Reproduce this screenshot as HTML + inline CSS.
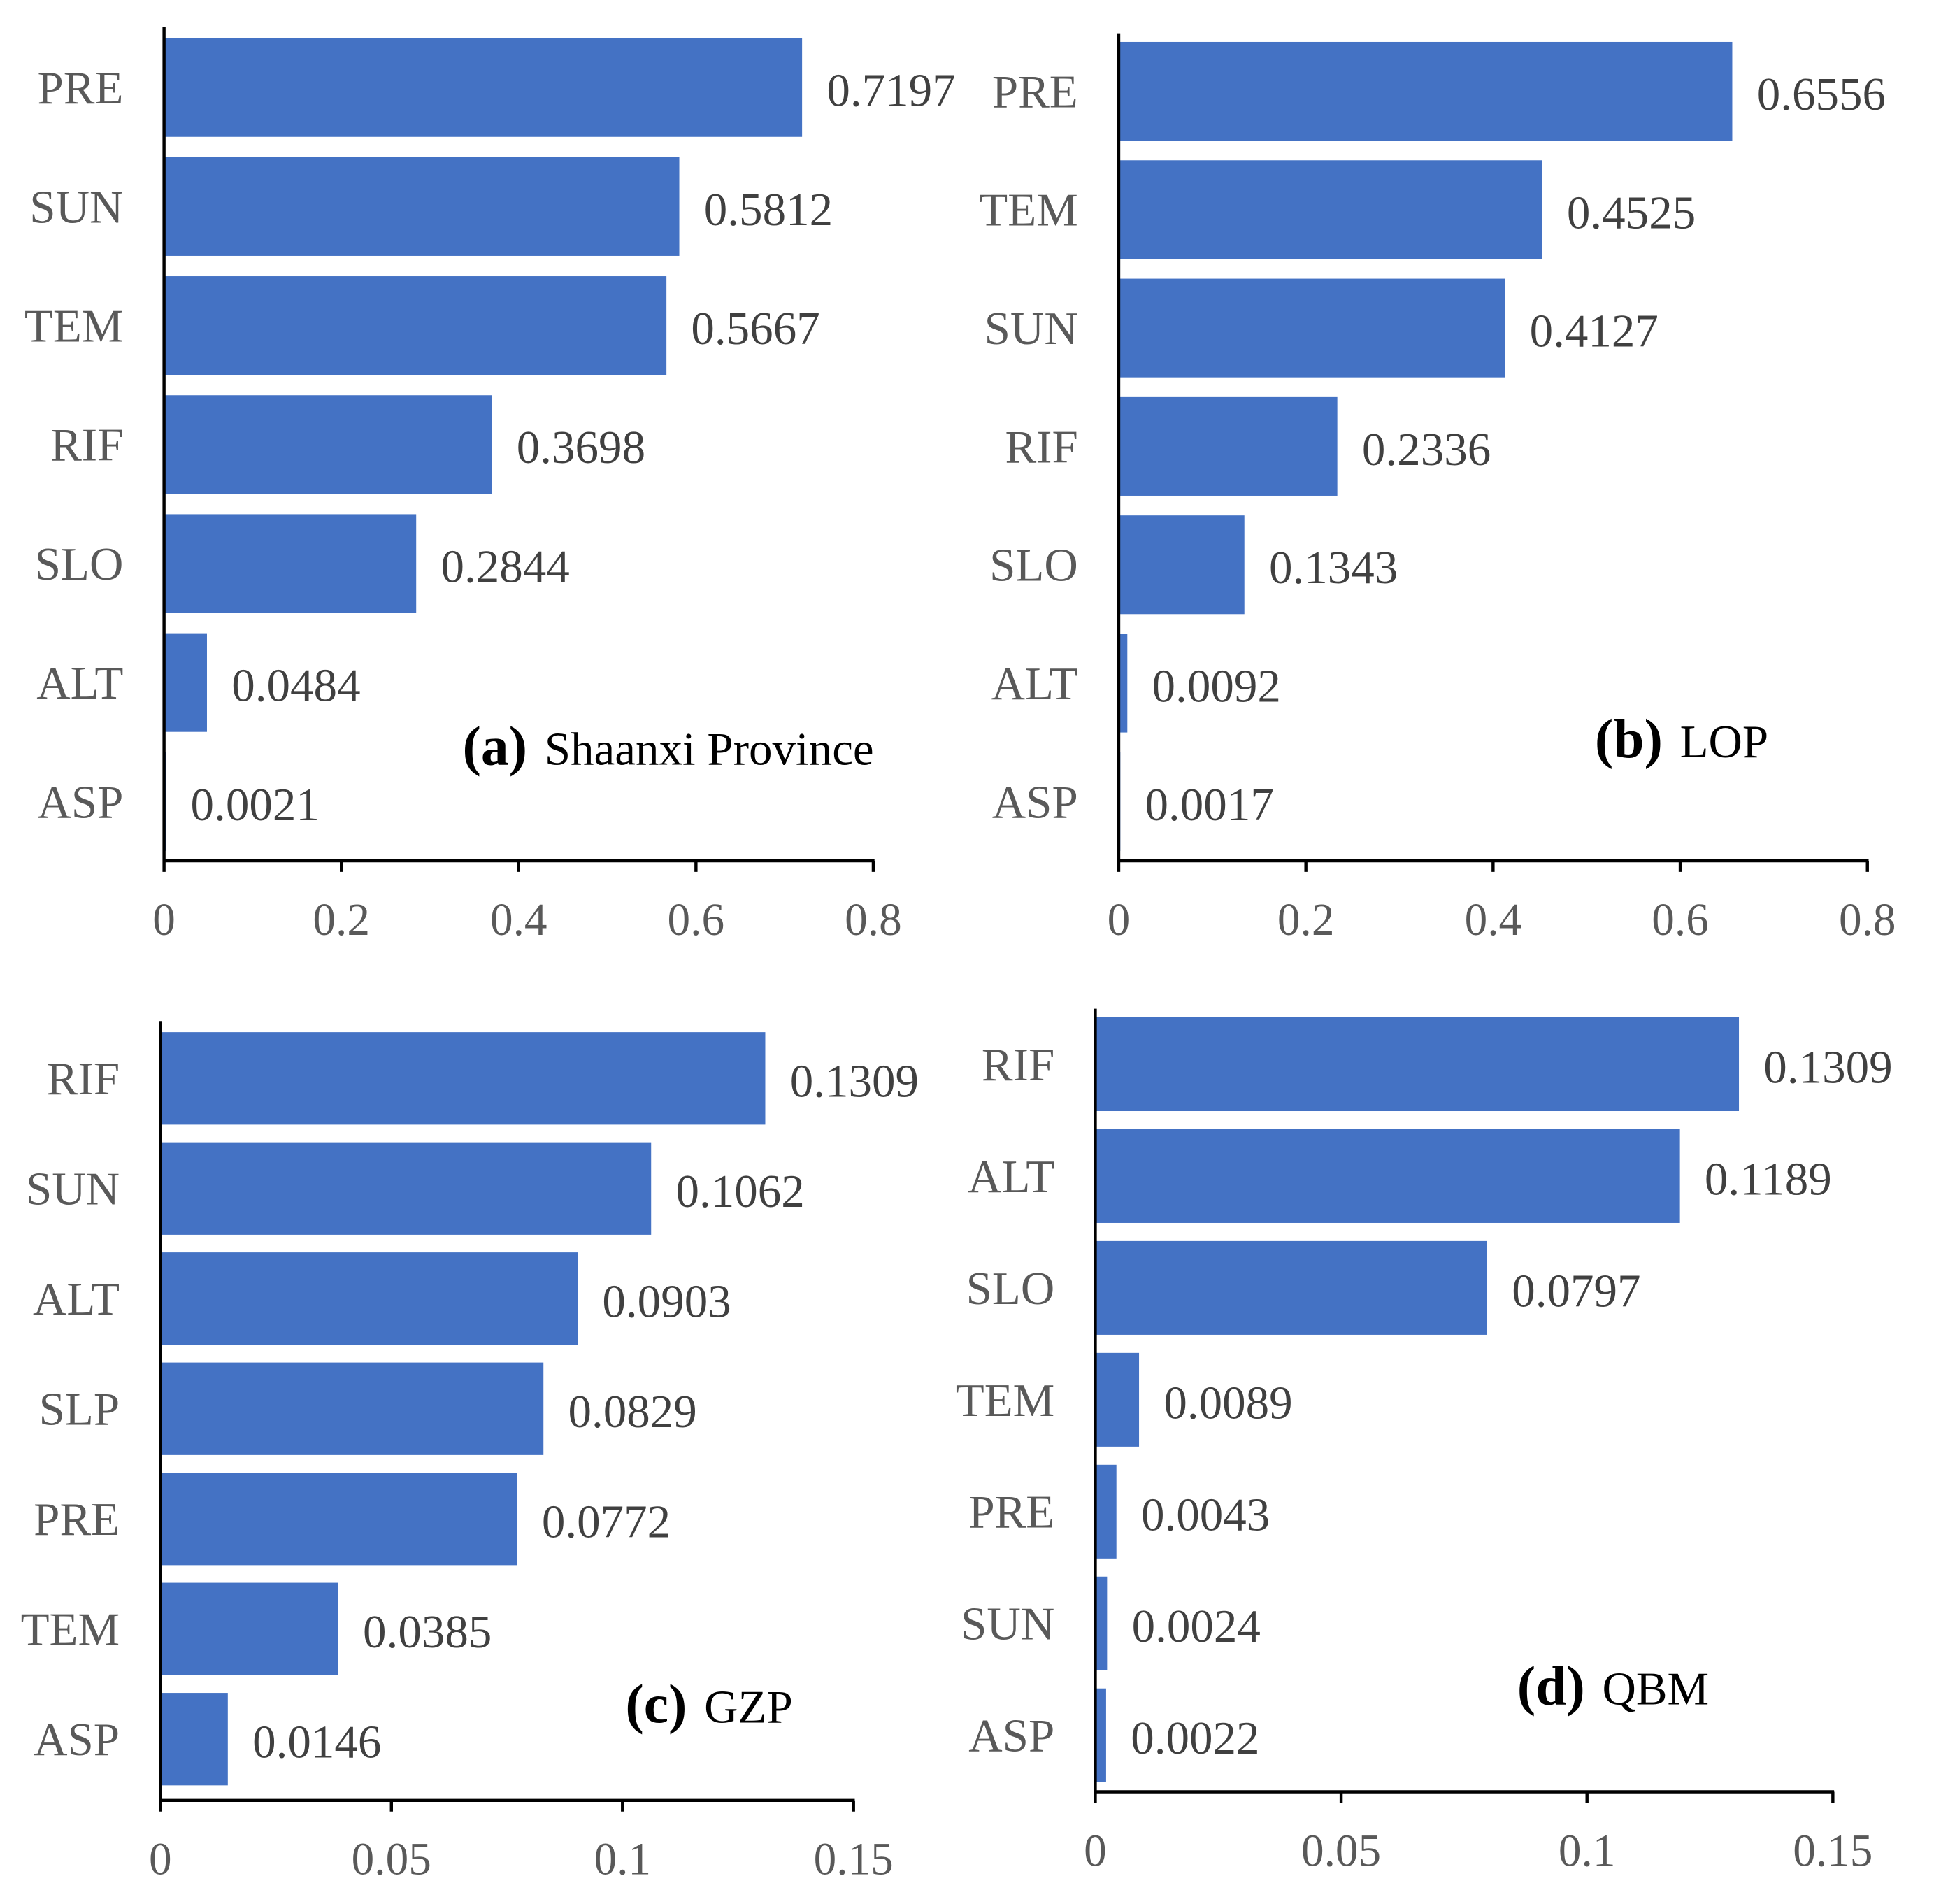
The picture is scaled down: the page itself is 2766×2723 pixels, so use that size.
<!DOCTYPE html>
<html><head><meta charset="utf-8"><style>
html,body{margin:0;padding:0;background:#fff;}
svg{display:block;}
text{font-family:"Liberation Serif",serif;}
</style></head><body>
<svg id="fig" width="2766" height="2723" viewBox="0 0 1568 1544" preserveAspectRatio="none" xmlns="http://www.w3.org/2000/svg"></svg>
<script>
const catsA=["PRE","SUN","TEM","RIF","SLO","ALT","ASP"];
const valsA=[0.7197,0.5812,0.5667,0.3698,0.2844,0.0484,0.0021];
const catsB=["PRE","TEM","SUN","RIF","SLO","ALT","ASP"];
const valsB=[0.6556,0.4525,0.4127,0.2336,0.1343,0.0092,0.0017];
const catsC=["RIF","SUN","ALT","SLP","PRE","TEM","ASP"];
const valsC=[0.1309,0.1062,0.0903,0.0829,0.0772,0.0385,0.0146];
const catsD=["RIF","ALT","SLO","TEM","PRE","SUN","ASP"];
const valsD=[0.1309,0.1189,0.0797,0.0089,0.0043,0.0024,0.0022];
const ticksAB=[0,0.2,0.4,0.6,0.8];
const tickLabelsAB=["0","0.2","0.4","0.6","0.8"];
const ticksCD=[0,0.05,0.1,0.15];
const tickLabelsCD=["0","0.05","0.1","0.15"];

const NS="http://www.w3.org/2000/svg";
const svg=document.getElementById('fig');
function mk(tag,attrs,parent,txt){const e=document.createElementNS(NS,tag);for(const k in attrs)e.setAttribute(k,attrs[k]);if(txt!==undefined)e.textContent=txt;parent.appendChild(e);return e;}

function panel(id,cfg,cats,vals,ticks,tickLabels){
  const g=mk('g',{},svg);
  
  
  const sx=v=>cfg.x0+(cfg.x1-cfg.x0)*v/cfg.max;
  cats.forEach((c,i)=>{
    const y=cfg.top+i*cfg.pitch;
    const r=mk('rect',{x:cfg.x0,y:y,width:Math.max(0,sx(vals[i])-cfg.x0),height:cfg.barH,fill:'#4472C4'},g);
    
    
    const cy=y+cfg.barH/2+13;
    const t=mk('text',{x:cfg.x0-33,y:cy,'text-anchor':'end','font-size':38,fill:'#595959'},g,c);
    
    
    const v=mk('text',{x:sx(vals[i])+20,y:cy+2,'font-size':38,fill:'#404040'},g,vals[i].toFixed(4));
    
    
  });
  const ya=mk('line',{x1:cfg.x0,y1:cfg.yTop,x2:cfg.x0,y2:cfg.axisY,stroke:'#000','stroke-width':2.5},g);
  
  
  const xa=mk('line',{x1:cfg.x0-1,y1:cfg.axisY,x2:cfg.x1+1,y2:cfg.axisY,stroke:'#000','stroke-width':2.5},g);
  
  
  ticks.forEach((t,i)=>{
    const x=sx(t);
    const tk=mk('line',{x1:x,y1:cfg.axisY,x2:x,y2:cfg.axisY+9,stroke:'#000','stroke-width':2.5},g);
    
    
    const tl=mk('text',{x:x,y:cfg.axisY+60,'text-anchor':'middle','font-size':37,fill:'#595959'},g,tickLabels[i]);
    
    
  });
  const tt=mk('text',{x:cfg.tx,y:cfg.ty,fill:'#000'},g);
  
  
  mk('tspan',{'font-size':45,'font-weight':'bold'},tt,cfg.letter);
  mk('tspan',{'font-size':38,dx:14},tt,cfg.title);
}
panel('a',{x0:133,x1:708,max:0.8,top:31,pitch:96.5,barH:80,yTop:22,axisY:698,tx:375,ty:620,letter:'(a)',title:'Shaanxi Province'},catsA,valsA,ticksAB,tickLabelsAB);
panel('b',{x0:907,x1:1514,max:0.8,top:34,pitch:96,barH:80,yTop:27,axisY:698,tx:1293,ty:614,letter:'(b)',title:'LOP'},catsB,valsB,ticksAB,tickLabelsAB);
panel('c',{x0:130,x1:692,max:0.15,top:837,pitch:89.3,barH:75,yTop:828,axisY:1460,tx:507,ty:1397,letter:'(c)',title:'GZP'},catsC,valsC,ticksCD,tickLabelsCD);
panel('d',{x0:888,x1:1486,max:0.15,top:825,pitch:90.7,barH:76,yTop:818,axisY:1453,tx:1230,ty:1382,letter:'(d)',title:'QBM'},catsD,valsD,ticksCD,tickLabelsCD);
</script>
</body></html>
